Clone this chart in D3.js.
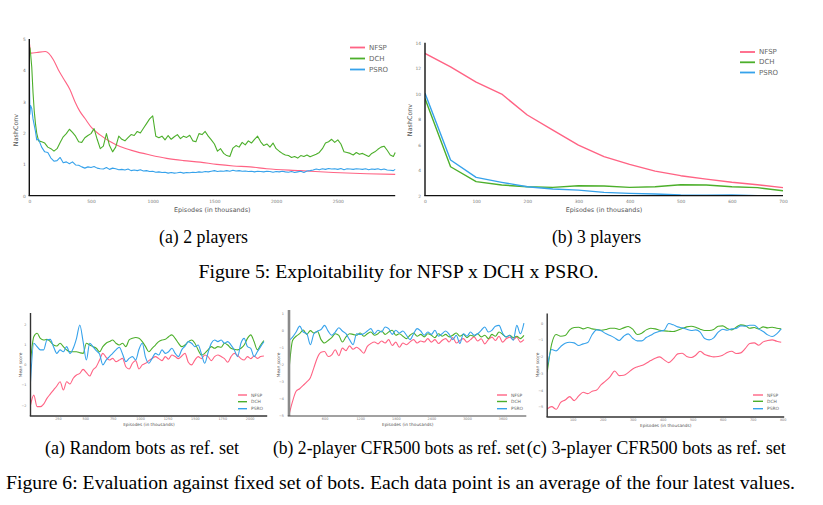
<!DOCTYPE html>
<html lang="en">
<head>
<meta charset="utf-8">
<title>NFSP x DCH x PSRO</title>
<script src="https://cdn.jsdelivr.net/npm/d3@7"></script>
<style>
  body { margin: 0; background: #fff; }
  svg { display: block; }
  .tick text { fill: #777; font-family: "DejaVu Sans", sans-serif; }
  .cap { font-family: "Liberation Serif", "Times New Roman", serif; fill: #000; font-size: 18.2px; }
  .ttl { font-family: "DejaVu Sans", sans-serif; fill: #555; }
  .leg { font-family: "DejaVu Sans", sans-serif; fill: #666; }
</style>
</head>
<body>
<script>
var seriesNames = ["NFSP", "DCH", "PSRO"];
var colors = ["#ff6384", "#4caf2b", "#36a2eb"];

// ---- Figure 5 (a): 2 players, NashConv ----
var nfsp2Ep = [0, 15, 60, 130, 195, 235, 275, 330, 370, 410, 450, 505, 573, 654, 735, 843, 978, 1113, 1249, 1384, 1519, 1654, 1789, 1924, 2195, 2465, 2735, 2965];
var nfsp2 = [4.9, 4.55, 4.57, 4.6, 4.34, 4.02, 3.75, 3.38, 3.0, 2.69, 2.47, 2.17, 1.94, 1.73, 1.57, 1.43, 1.30, 1.19, 1.12, 1.07, 1.0, 0.95, 0.92, 0.86, 0.8, 0.74, 0.70, 0.68];
var ep2 = [0, 5, 10, 20, 30, 40, 50, 60, 75,
  100, 125, 150, 175, 200, 225, 250, 275, 300, 325,
  350, 375, 400, 425, 450, 475, 500, 525, 550, 575,
  600, 625, 650, 675, 700, 725, 750, 775, 800, 825,
  850, 875, 900, 925, 950, 975, 1000, 1025, 1050, 1075,
  1100, 1125, 1150, 1175, 1200, 1225, 1250, 1275, 1300, 1325,
  1350, 1375, 1400, 1425, 1450, 1475, 1500, 1525, 1550, 1575,
  1600, 1625, 1650, 1675, 1700, 1725, 1750, 1775, 1800, 1825,
  1850, 1875, 1900, 1925, 1950, 1975, 2000, 2025, 2050, 2075,
  2100, 2125, 2150, 2175, 2200, 2225, 2250, 2275, 2300, 2325,
  2350, 2375, 2400, 2425, 2450, 2475, 2500, 2525, 2550, 2575,
  2600, 2625, 2650, 2675, 2700, 2725, 2750, 2775, 2800, 2825,
  2850, 2875, 2900, 2925, 2950, 2965];
var dch2 = [4.6, 4.72, 4.55, 4.1, 3.3, 2.7, 2.3, 2.0, 1.75,
  1.72, 1.68, 1.55, 1.5, 1.42, 1.5, 1.7, 1.88, 1.98, 2.12,
  2.02, 1.9, 1.72, 1.7, 1.85, 1.92, 1.98, 2.14, 1.8, 1.5,
  1.58, 1.98, 1.6, 1.4, 1.55, 1.9, 1.8, 1.75, 1.85, 1.95,
  1.92, 2.05, 2.0, 2.15, 2.3, 2.45, 2.55, 1.9, 1.85, 1.9,
  1.78, 1.92, 1.8, 1.88, 1.95, 1.82, 1.9, 1.86, 1.93, 1.75,
  1.72, 1.98, 1.95, 2.05, 1.9, 1.78, 1.65, 1.42, 1.5, 1.35,
  1.28, 1.25, 1.52, 1.6, 1.55, 1.7, 1.62, 1.75, 1.68, 1.8,
  1.9, 1.72, 1.6, 1.65, 1.55, 1.68, 1.5, 1.42, 1.35, 1.3,
  1.28, 1.22, 1.25, 1.2, 1.28, 1.25, 1.3, 1.24, 1.28, 1.32,
  1.38, 1.5, 1.68, 1.72, 1.8, 1.7, 1.78, 1.65, 1.4, 1.38,
  1.35, 1.3, 1.38, 1.32, 1.35, 1.3, 1.25, 1.35, 1.4, 1.48,
  1.55, 1.58, 1.45, 1.3, 1.25, 1.38];
var psro2 = [4.25, 2.6, 2.88, 2.78, 2.45, 2.25, 2.05, 1.78, 1.8,
  1.55, 1.4, 1.38, 1.2, 1.1, 1.12, 1.22, 1.05, 1.08, 1.02,
  1.08, 0.98, 0.97, 0.92, 0.88, 0.92, 0.9, 0.93, 0.88, 0.86,
  0.85, 0.9, 0.84, 0.88, 0.86, 0.83, 0.84, 0.82, 0.85, 0.8,
  0.82, 0.8, 0.83, 0.79, 0.8, 0.77, 0.78, 0.75, 0.76, 0.74,
  0.75, 0.72, 0.74, 0.72, 0.73, 0.75, 0.72, 0.74, 0.73, 0.75,
  0.74, 0.76, 0.75, 0.77, 0.76, 0.78, 0.8, 0.77, 0.79, 0.78,
  0.8, 0.78, 0.81, 0.79, 0.8, 0.78, 0.79, 0.77, 0.78, 0.76,
  0.78, 0.77, 0.76, 0.78, 0.77, 0.75, 0.77, 0.76, 0.78, 0.76,
  0.75, 0.77, 0.74, 0.76, 0.78, 0.74, 0.79, 0.8, 0.82, 0.85,
  0.83, 0.86, 0.84, 0.87, 0.85, 0.86, 0.84, 0.87, 0.83, 0.86,
  0.85, 0.84, 0.86, 0.85, 0.84, 0.86, 0.83, 0.85, 0.84, 0.86,
  0.83, 0.85, 0.82, 0.81, 0.8, 0.84];
var ticks2X = [0, 500, 1000, 1500, 2000, 2500];
var ticks2Y = [0, 1, 2, 3, 4, 5];

// ---- Figure 5 (b): 3 players, NashConv ----
var ep3 = [0, 50, 100, 150, 200, 250, 300, 350, 400, 450, 500, 550, 600, 650, 700];
var nfsp3 = [13.16, 12.1, 10.9, 9.97, 8.33, 7.15, 5.97, 5.06, 4.46, 3.93, 3.57, 3.3, 3.05, 2.86, 2.63];
var dch3 = [9.63, 4.27, 3.1, 2.84, 2.7, 2.65, 2.78, 2.76, 2.65, 2.7, 2.86, 2.84, 2.7, 2.63, 2.39];
var psro3 = [10.03, 4.8, 3.44, 3.05, 2.7, 2.52, 2.44, 2.26, 2.18, 2.13, 2.05, 2.03, 2.05, 2.0, 2.0];
var ticks3X = [0, 100, 200, 300, 400, 500, 600, 700];
var ticks3Y = [2, 4, 6, 8, 10, 12, 14];

// ---- Figure 6 (a): random bots ----
var epA = [0, 30, 60, 90, 120, 150, 180, 210, 240, 270, 300, 330, 360, 390, 420, 450, 480, 510, 540, 570,
  600, 630, 660, 690, 720, 750, 780, 810, 840, 870, 900, 930, 960, 990, 1020, 1050, 1080, 1110, 1140, 1170,
  1200, 1230, 1260, 1290, 1320, 1350, 1380, 1410, 1440, 1470, 1500, 1530, 1560, 1590, 1620, 1650, 1680, 1710,
  1740, 1770, 1800, 1830, 1860, 1890, 1920, 1950, 1980, 2010, 2040, 2070, 2100, 2130];
var nfspA = [-2.0, -1.51, -2.08, -2.08, -1.95, -1.67, -1.46, -1.26, -1.06, -0.85,
  -1.26, -0.85, -0.96, -0.68, -0.52, -0.44, -0.24, -0.40, -0.57, -0.27,
  -0.11, 0.22, 0.55, 0.35, 0.22, 0.30, 0.14, 0.22, 0.30, -0.11,
  -0.22, 0.06, 0.19, -0.22, -0.02, 0.06, 0.19, 0.30, 0.39, 0.29,
  0.19, 0.39, 0.26, 0.47, 0.39, 0.29, 0.42, 0.55, 0.11, -0.02,
  0.22, 0.39, 0.29, 0.47, 0.39, 0.19, 0.39, 0.47, 0.39, 0.29,
  0.11, 0.39, 0.55, 0.45, 0.29, 0.22, 0.39, 0.29, 0.42, 0.30,
  0.39, 0.42];
var dchA = [0.14, 1.37, 1.54, 1.29, 1.21, 1.24, 1.13, 0.96, 0.91, 1.05,
  0.88, 0.72, 0.63, 0.63, 0.63, 0.58, 0.55, 1.05, 0.96, 0.88,
  0.80, 0.63, 0.88, 1.05, 1.13, 1.21, 1.05, 0.96, 1.05, 0.88,
  1.21, 1.29, 1.33, 1.29, 1.13, 0.88, 0.63, 0.80, 0.96, 1.13,
  1.21, 1.24, 1.37, 1.46, 1.29, 1.05, 0.88, 0.96, 1.13, 1.21,
  1.05, 0.72, 0.47, 0.55, 0.72, 0.88, 0.80, 0.88, 0.85, 1.05,
  0.96, 0.80, 0.75, 0.72, 0.80, 0.96, 1.29, 1.46, 1.13, 0.72,
  0.96, 1.18];
var psroA = [-0.85, 1.05, 0.88, 0.72, 0.72, 1.21, 1.24, 0.88, 0.55, 0.72,
  0.63, 0.88, 0.55, 0.80, 1.29, 1.95, 1.13, 0.22, 1.05, 0.88,
  0.68, 0.52, -0.02, 0.22, 0.39, 0.55, 0.72, 0.85, 0.52, 0.14,
  0.30, 0.39, 0.22, 0.75, 1.05, 0.35, 0.06, 0.30, 0.55, 0.47,
  0.72, 0.55, 0.63, 0.80, 0.55, 0.39, 0.72, 0.91, 1.13, 1.05,
  0.88, 0.96, 0.52, 0.06, 0.58, 1.05, 1.21, 1.13, 1.21, 1.05,
  1.13, 0.96, 0.72, 0.39, 1.05, 1.29, 0.88, 0.80, 0.39, 0.63,
  0.88, 1.13];
var ticksAX = [250, 500, 750, 1000, 1250, 1500, 1750, 2000];
var ticksAY = [2, 1, 0, -1, -2];

// ---- Figure 6 (b): 2-player CFR500 bots ----
var epB = [0, 60, 120, 180, 240, 300, 360, 420, 480, 540, 600, 660, 720, 780, 840, 900, 960, 1020, 1080, 1140,
  1200, 1260, 1320, 1380, 1440, 1500, 1560, 1620, 1680, 1740, 1800, 1860, 1920, 1980, 2040, 2100, 2160, 2220,
  2280, 2340, 2400, 2460, 2520, 2580, 2640, 2700, 2760, 2820, 2880, 2940, 3000, 3060, 3120, 3180, 3240, 3300,
  3360, 3420, 3480, 3540, 3600, 3660, 3720, 3780, 3840, 3900, 3960];
var nfspB = [-5.0, -4.2, -3.6, -3.45, -3.25, -3.04, -2.8, -2.2, -1.6, -1.3,
  -1.25, -1.55, -1.45, -1.15, -1.5, -1.05, -1.2, -0.92, -1.12, -1.0,
  -1.15, -1.35, -0.95, -0.78, -0.69, -0.8, -0.63, -0.75, -0.55, -0.9,
  -0.7, -1.0, -0.75, -0.85, -0.68, -0.55, -0.75, -0.63, -0.69, -0.49,
  -0.7, -0.55, -0.78, -0.6, -0.49, -0.69, -0.43, -0.75, -0.6, -0.49,
  -0.7, -0.55, -0.39, -0.63, -0.5, -0.8, -0.55, -0.4, -0.6, -0.35,
  -0.7, -0.5, -0.4, -0.55, -0.4, -0.7, -0.55];
var dchB = [-2.35, -0.6, -0.35, -0.2, 0.02, -0.24, -0.02, -0.16, -0.06, -0.55,
  -0.75, -0.6, -0.43, -0.2, -0.3, -0.69, -0.39, -0.2, -0.24, -0.29,
  -0.16, -0.35, -0.2, -0.1, -0.29, -0.2, -0.04, -0.24, -0.1, 0.0,
  -0.29, -0.2, -0.35, -0.49, -0.29, -0.16, -0.35, -0.24, -0.39, -0.2,
  -0.29, -0.43, -0.2, -0.35, -0.24, -0.39, -0.29, -0.16, -0.35, -0.24,
  -0.43, -0.29, -0.35, -0.2, -0.39, -0.29, -0.49, -0.24, -0.35, -0.1,
  -0.24, -0.39, -0.29, -0.43, -0.35, -0.49, -0.3];
var psroB = [-0.6, -0.4, -0.1, 0.25, -0.1, -0.2, -0.85, -0.2, -0.05, 0.05,
  0.29, -0.05, -0.29, -0.1, 0.15, -0.04, -0.2, -0.55, -0.85, -0.2,
  -0.25, -0.2, -0.04, 0.1, -0.2, 0.0, -0.1, 0.2, 0.1, -0.24,
  0.0, -0.16, -0.04, -0.29, -0.55, -0.2, 0.1, -0.04, -0.29, -0.1,
  -0.24, 0.0, -0.35, -0.2, -0.04, -0.24, -0.55, -0.29, -0.78, -0.2,
  -0.35, -0.1, -0.29, -0.2, 0.0, 0.2, -0.1, 0.0, 0.24, 0.29,
  -0.16, -0.39, -0.29, -0.59, 0.29, -0.2, 0.43];
var ticksBX = [600, 1200, 1800, 2400, 3000, 3600];
var ticksBY = [1, 0, -1, -2, -3, -4, -5];

// ---- Figure 6 (c): 3-player CFR500 bots ----
var epC = [15, 30, 45, 60, 75, 90, 105, 120, 135, 150, 165, 180, 195, 210, 225, 240, 255, 270, 285, 300,
  315, 330, 345, 360, 375, 390, 405, 420, 435, 450, 465, 480, 495, 510, 525, 540, 555, 570, 585, 600,
  615, 630, 645, 660, 675, 690, 705, 720, 735, 750, 765, 780, 795];
var nfspC = [-5.14, -5.0, -5.16, -4.74, -4.6, -4.4, -4.64, -4.36, -4.14, -4.22,
  -4.08, -4.0, -3.68, -3.46, -3.2, -2.86, -3.14, -3.12, -2.96, -2.74,
  -2.62, -2.54, -2.4, -2.24, -2.1, -2.02, -2.2, -2.36, -2.14, -1.84,
  -1.8, -2.0, -2.06, -1.92, -1.68, -1.88, -1.96, -2.02, -2.0, -1.92,
  -1.76, -1.68, -1.82, -1.78, -1.52, -1.22, -1.18, -1.32, -1.12, -1.04,
  -1.0, -1.08, -1.14];
var dchC = [-2.94, -1.24, -0.68, -0.78, -0.74, -0.4, -0.26, -0.24, -0.34, -0.26,
  -0.34, -0.38, -0.42, -0.38, -0.3, -0.3, -0.38, -0.28, -0.2, -0.36,
  -0.68, -0.6, -0.4, -0.3, -0.34, -0.42, -0.46, -0.48, -0.5, -0.42,
  -0.32, -0.22, -0.18, -0.24, -0.36, -0.44, -0.44, -0.38, -0.18, -0.16,
  -0.32, -0.4, -0.24, -0.1, -0.14, -0.3, -0.26, -0.34, -0.22, -0.28,
  -0.24, -0.3, -0.34];
var psroC = [-2.64, -1.58, -1.66, -1.4, -1.2, -1.14, -1.18, -1.34, -1.24, -1.16,
  -0.68, -0.4, -0.46, -0.62, -0.74, -0.88, -1.04, -0.78, -0.64, -0.9,
  -1.06, -1.06, -0.86, -0.72, -0.58, -0.48, -0.42, -0.02, -0.1, -0.22,
  -0.28, -0.36, -0.44, -0.4, -0.54, -0.92, -1.0, -0.88, -0.54, -0.36,
  -0.42, -0.34, -0.32, -0.16, -0.18, -0.12, -0.12, -0.34, -0.5, -0.7,
  -0.8, -0.64, -0.34];
var ticksCX = [100, 200, 300, 400, 500, 600, 700, 800];
var ticksCY = [0, -1, -2, -3, -4, -5];

var captions = [
  { text: "(a) 2 players", cx: 203.5, y: 243.3, w: 89 },
  { text: "(b) 3 players", cx: 596.5, y: 243.3, w: 89 },
  { text: "Figure 5: Exploitability for NFSP x DCH x PSRO.", cx: 398.5, y: 278.3, w: 400 },
  { text: "(a) Random bots as ref. set", cx: 142, y: 453.5, w: 194 },
  { text: "(b) 2-player CFR500 bots as ref. set", cx: 399, y: 453.5, w: 252 },
  { text: "(c) 3-player CFR500 bots as ref. set", cx: 656.3, y: 453.5, w: 259 },
  { text: "Figure 6: Evaluation against fixed set of bots. Each data point is an average of the four latest values.", cx: 400.5, y: 488.5, w: 789 }
];

var svg = d3.select("body").append("svg")
  .attr("width", 823)
  .attr("height", 505);

var panelId = 0;

function drawPanel(p) {
  var id = "clip" + (panelId++);
  var x = d3.scaleLinear().domain(p.xDomain).range(p.xRange);
  var y = d3.scaleLinear().domain(p.yDomain).range(p.yRange);
  var g = svg.append("g");

  g.append("clipPath").attr("id", id)
    .append("rect")
    .attr("x", p.xRange[0]).attr("y", p.yRange[1] - 2)
    .attr("width", p.xRange[1] - p.xRange[0] + 2)
    .attr("height", p.yRange[0] - p.yRange[1] + 2);

  var lines = g.append("g").attr("clip-path", "url(#" + id + ")");
  p.series.forEach(function(s, k) {
    var pts = s.ep.map(function(e, i) { return [e, s.val[i]]; })
      .filter(function(d) { return d[1] !== undefined; });
    var line = d3.line()
      .x(function(d) { return x(d[0]); })
      .y(function(d) { return y(d[1]); })
      .curve(s.smooth ? d3.curveMonotoneX : d3.curveLinear);
    lines.append("path").datum(pts)
      .attr("fill", "none")
      .attr("stroke", colors[k])
      .attr("stroke-width", p.lineW)
      .attr("stroke-linejoin", "round")
      .attr("d", line);
  });

  // tick labels
  var ax = g.append("g")
    .attr("transform", "translate(0," + p.yRange[0] + ")")
    .call(d3.axisBottom(x).tickValues(p.xTicks).tickSize(0).tickPadding(p.xPad).tickFormat(d3.format("d")));
  ax.select(".domain").remove();
  ax.selectAll("text").style("font-size", p.tickFont + "px");

  var ay = g.append("g")
    .attr("transform", "translate(" + p.xRange[0] + ",0)")
    .call(d3.axisLeft(y).tickValues(p.yTicks).tickSize(0).tickPadding(p.yPad).tickFormat(d3.format("d")));
  ay.select(".domain").remove();
  ay.selectAll("text").style("font-size", p.tickFont + "px");

  // axis lines
  g.append("line")
    .attr("x1", p.xRange[0]).attr("x2", p.xRange[0])
    .attr("y1", p.yRange[1]).attr("y2", p.yRange[0])
    .attr("stroke", p.yAxisColor).attr("stroke-width", p.yAxisW);
  g.append("line")
    .attr("x1", p.xRange[0] - p.yAxisW / 2).attr("x2", p.xRange[1])
    .attr("y1", p.yRange[0]).attr("y2", p.yRange[0])
    .attr("stroke", p.xAxisColor).attr("stroke-width", p.xAxisW);

  // titles
  g.append("text").attr("class", "ttl")
    .attr("x", (p.xRange[0] + p.xRange[1]) / 2 + p.xTitleDx)
    .attr("y", p.xTitleY)
    .attr("text-anchor", "middle")
    .attr("dominant-baseline", "central")
    .style("font-size", p.titleFont + "px")
    .text("Episodes (in thousands)");
  g.append("text").attr("class", "ttl")
    .attr("transform", "translate(" + p.yTitleX + "," + p.yTitleY + ") rotate(-90)")
    .attr("text-anchor", "middle")
    .attr("dominant-baseline", "central")
    .style("font-size", p.titleFont + "px")
    .text(p.yTitle);

  // legend
  seriesNames.forEach(function(name, k) {
    var ly = p.legend.ys[k];
    g.append("line")
      .attr("x1", p.legend.x).attr("x2", p.legend.x + p.legend.len)
      .attr("y1", ly).attr("y2", ly)
      .attr("stroke", colors[k]).attr("stroke-width", p.legend.w);
    g.append("text").attr("class", "leg")
      .attr("x", p.legend.x + p.legend.len + p.legend.gap)
      .attr("y", ly)
      .attr("dominant-baseline", "central")
      .style("font-size", p.legend.font + "px")
      .text(name);
  });
}

drawPanel({
  xDomain: [0, 2965], xRange: [29.3, 395.2],
  yDomain: [0, 5], yRange: [195.7, 39],
  xTicks: ticks2X, yTicks: ticks2Y,
  series: [
    { ep: nfsp2Ep, val: nfsp2, smooth: true },
    { ep: ep2, val: dch2 },
    { ep: ep2, val: psro2 }
  ],
  lineW: 1.1, tickFont: 4.4, xPad: 4, yPad: 3.5,
  yAxisColor: "#111", yAxisW: 1.4, xAxisColor: "#111", xAxisW: 1.2,
  titleFont: 6.4, xTitleY: 210, xTitleDx: 0,
  yTitle: "NashConv", yTitleX: 16, yTitleY: 130,
  legend: { x: 350, len: 15, gap: 4, w: 1.8, font: 7, ys: [47.5, 58.5, 69.5] }
});

drawPanel({
  xDomain: [0, 700], xRange: [425, 783],
  yDomain: [2, 14], yRange: [195.7, 42.7],
  xTicks: ticks3X, yTicks: ticks3Y,
  series: [
    { ep: ep3, val: nfsp3 },
    { ep: ep3, val: dch3 },
    { ep: ep3, val: psro3 }
  ],
  lineW: 1.4, tickFont: 4.4, xPad: 4, yPad: 4,
  yAxisColor: "#111", yAxisW: 1.4, xAxisColor: "#111", xAxisW: 1.2,
  titleFont: 6.4, xTitleY: 210, xTitleDx: 0,
  yTitle: "NashConv", yTitleX: 410, yTitleY: 120,
  legend: { x: 740, len: 15, gap: 4, w: 1.8, font: 7, ys: [52, 62.3, 72.5] }
});

drawPanel({
  xDomain: [0, 2160], xRange: [30.5, 267.2],
  yDomain: [-2.54, 2.54], yRange: [416, 313],
  xTicks: ticksAX, yTicks: ticksAY,
  series: [
    { ep: epA, val: nfspA, smooth: true },
    { ep: epA, val: dchA, smooth: true },
    { ep: epA, val: psroA, smooth: true }
  ],
  lineW: 1.1, tickFont: 3.4, xPad: 1.5, yPad: 4,
  yAxisColor: "#333", yAxisW: 1.4, xAxisColor: "#333", xAxisW: 1.4,
  titleFont: 4.3, xTitleY: 424.8, xTitleDx: 0,
  yTitle: "Mean score", yTitleX: 20, yTitleY: 365,
  legend: { x: 238, len: 9, gap: 4, w: 1.4, font: 4.4, ys: [395, 401.7, 408.7] }
});

drawPanel({
  xDomain: [0, 4000], xRange: [289, 526.3],
  yDomain: [-5.06, 1.2], yRange: [416, 310],
  xTicks: ticksBX, yTicks: ticksBY,
  series: [
    { ep: epB, val: nfspB, smooth: true },
    { ep: epB, val: dchB, smooth: true },
    { ep: epB, val: psroB, smooth: true }
  ],
  lineW: 1.1, tickFont: 3.4, xPad: 1.5, yPad: 5,
  yAxisColor: "#8a8a8a", yAxisW: 2.6, xAxisColor: "#444", xAxisW: 1.2,
  titleFont: 4.3, xTitleY: 424.8, xTitleDx: 0,
  yTitle: "Mean score", yTitleX: 278, yTitleY: 365,
  legend: { x: 497, len: 10, gap: 4, w: 1.4, font: 4.4, ys: [395, 401.5, 408.7] }
});

drawPanel({
  xDomain: [15, 805], xRange: [547.2, 784.2],
  yDomain: [-5.62, 0.58], yRange: [417, 313.5],
  xTicks: ticksCX, yTicks: ticksCY,
  series: [
    { ep: epC, val: nfspC, smooth: true },
    { ep: epC, val: dchC, smooth: true },
    { ep: epC, val: psroC, smooth: true }
  ],
  lineW: 1.1, tickFont: 3.4, xPad: 1.5, yPad: 4,
  yAxisColor: "#333", yAxisW: 1.4, xAxisColor: "#333", xAxisW: 1.4,
  titleFont: 4.3, xTitleY: 425.3, xTitleDx: 0,
  yTitle: "Mean score", yTitleX: 537, yTitleY: 365,
  legend: { x: 753, len: 10, gap: 4, w: 1.4, font: 4.4, ys: [395, 401.3, 408.7] }
});

svg.selectAll("text.cap")
  .data(captions)
  .enter().append("text")
  .attr("class", "cap")
  .attr("x", function(d) { return d.cx; })
  .attr("y", function(d) { return d.y; })
  .attr("text-anchor", "middle")
  .attr("textLength", function(d) { return d.w; })
  .attr("lengthAdjust", "spacingAndGlyphs")
  .text(function(d) { return d.text; });
</script>
</body>
</html>
